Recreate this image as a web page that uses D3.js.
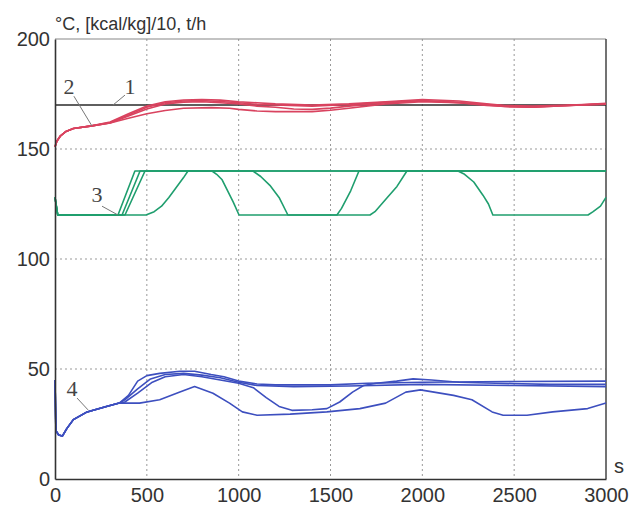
<!DOCTYPE html>
<html>
<head>
<meta charset="utf-8">
<script src="https://cdn.jsdelivr.net/npm/d3@7"></script>
<style>
  body { margin: 0; background: #fff; }
  svg { display: block; font-family: "Liberation Sans", Arial, sans-serif; }
</style>
</head>
<body>
<svg width="642" height="508"></svg>
<script>
// ticks
xTicks = [0, 500, 1000, 1500, 2000, 2500, 3000];
yTicks = [0, 50, 100, 150, 200];

// 1 - setpoint
setpoint = [[0, 170], [3000, 170]];

// 2 - temperature, four runs
red1 = [[0,151],[10,153.5],[30,156],[60,158],[100,159.3],[200,160.5],[300,162.3],[400,166],[500,169.5],[600,171.5],[700,172.3],[800,172.5],[900,172.2],[1000,171.5],[1100,171],[1200,170.5],[1400,170],[1600,170.5],[1800,171.5],[2000,172.5],[2200,171.8],[2350,170.5],[2450,169.8],[2600,169.5],[2800,170],[3000,170.6]];
red2 = [[0,151],[10,153.5],[30,156],[60,158],[100,159.3],[200,160.5],[300,162],[400,165.5],[500,169],[600,171],[700,171.8],[800,172],[900,171.6],[1000,171],[1100,170.3],[1200,170],[1400,169.5],[1600,170.2],[1800,171.2],[2000,172],[2200,171.2],[2350,170],[2450,169.3],[2600,169],[2800,169.8],[3000,170.8]];
red3 = [[0,151],[10,153.5],[30,156],[60,158],[100,159.3],[200,160.5],[300,161.8],[400,165],[500,168.2],[600,170.5],[700,171.3],[800,171.5],[900,171],[1000,170.5],[1100,169.5],[1200,169],[1300,168.2],[1400,168],[1500,168.6],[1600,169.5],[1800,171],[2000,171.8],[2200,171],[2350,170.2],[2450,169.6],[2600,169.2],[2800,169.8],[3000,170.4]];
red4 = [[0,151],[10,153.5],[30,156],[60,158],[100,159.3],[200,160.5],[300,161.8],[400,164],[500,166],[600,167.5],[700,168.5],[850,168.8],[950,168.5],[1000,168],[1100,167.3],[1200,167],[1400,167],[1500,167.6],[1600,168.5],[1800,170.5],[2000,171.5],[2200,171],[2350,169.8],[2450,169.3],[2600,169],[2800,169.8],[3000,170.5]];

// 3 - flow, four runs
green1 = [[0,128],[15,120],[343,120],[435,140],[3000,140]];
green2 = [[0,128],[15,120],[365,120],[463,140],[3000,140]];
green3 = [[0,128],[15,120],[381,120],[490,140],[1078,140],[1120,137.5],[1170,133.5],[1220,128],[1268,120],[1535,120],[1560,123],[1610,131],[1655,140],[3000,140]];
green4 = [[0,128],[15,120],[495,120],[540,121.5],[580,124],[620,128],[660,132.5],[700,137],[724,140],[855,140],[880,138.5],[910,136],[940,131],[970,126],[1002,120],[1715,120],[1742,121.5],[1807,127.7],[1862,133],[1916,140],[2194,140],[2230,138.5],[2280,135],[2330,129],[2360,125],[2384,120],[2902,120],[2930,121.5],[2970,124],[3000,128]];

// 4 - enthalpy/10, four runs
blue1 = [[0,45],[5,22],[20,20],[40,19.5],[65,23],[100,27],[175,30.5],[280,33],[350,34.5],[400,38],[450,44.5],[500,47],[570,48],[680,49],[760,49],[850,47.5],[920,46.5],[1000,44.5],[1100,43.2],[1200,42.8],[1500,42.8],[1700,43.5],[2000,44],[2500,44.3],[3000,44.5]];
blue2 = [[0,45],[5,22],[20,20],[40,19.5],[65,23],[100,27],[175,30.5],[280,33],[350,34.5],[380,36],[450,41],[520,45.5],[600,47.5],[700,48],[800,47.2],[900,46],[1000,44],[1100,42.5],[1300,42],[1600,42.3],[2000,43],[2500,42.5],[3000,42]];
blue3 = [[0,45],[5,22],[20,20],[40,19.5],[65,23],[100,27],[175,30.5],[280,33],[350,34.5],[380,35],[450,39],[530,44],[600,46.5],[700,47.5],[800,46.5],[900,45],[1000,43.5],[1080,41.5],[1150,37],[1220,33],[1290,31.2],[1400,31.5],[1480,32],[1550,35],[1620,39.5],[1680,42.5],[1750,43.5],[1860,44.5],[1950,45.5],[2050,45],[2200,44],[2400,43.5],[2700,43],[3000,43]];
blue4 = [[0,45],[5,22],[20,20],[40,19.5],[65,23],[100,27],[175,30.5],[280,33],[350,34.5],[460,34.5],[570,36],[680,39.5],[760,42],[860,39],[950,34.5],[1020,30.5],[1100,29],[1280,29.5],[1480,30.5],[1660,32],[1800,34.5],[1910,39.5],[1990,40.5],[2170,38],[2270,36],[2380,30.5],[2440,29],[2570,29],[2710,30.5],[2900,32],[3000,34.5]];

// curve labels: [text, label t, label v, leader from t,v, leader to t,v]
labels = [
  ["1", 408, 178.2, 381, 174.5, 316, 170],
  ["2", 76, 178.2, 103, 174, 201, 160.5],
  ["3", 229, 129.5, 256, 124, 343, 120],
  ["4", 93, 41, 120, 36.8, 180, 31.4]
];

svg = d3.select('svg');
margin = { top: 39, right: 36, bottom: 29, left: 55 };
width = +svg.attr('width') - margin.left - margin.right;
height = +svg.attr('height') - margin.top - margin.bottom;

g = svg.append('g')
  .attr('transform', `translate(${margin.left},${margin.top})`);

x = d3.scaleLinear().domain([0, 3000]).range([0, width]);
y = d3.scaleLinear().domain([0, 200]).range([height, 0]);

// grid
g.selectAll('.vgrid')
  .data(xTicks.slice(1, -1))
  .enter().append('line')
    .attr('x1', d => x(d)).attr('x2', d => x(d))
    .attr('y1', 0).attr('y2', height)
    .attr('stroke', '#999').attr('stroke-width', 1)
    .attr('stroke-dasharray', '2,3');

g.selectAll('.hgrid')
  .data(yTicks.slice(1, -1))
  .enter().append('line')
    .attr('x1', 0).attr('x2', width)
    .attr('y1', d => y(d)).attr('y2', d => y(d))
    .attr('stroke', '#999').attr('stroke-width', 1)
    .attr('stroke-dasharray', '2,3');

// frame
g.append('line').attr('x1', 0).attr('x2', width).attr('y1', 0).attr('y2', 0)
  .attr('stroke', '#888').attr('stroke-width', 1.2);
g.append('line').attr('x1', width).attr('x2', width).attr('y1', 0).attr('y2', height)
  .attr('stroke', '#444').attr('stroke-width', 1.5);

line = d3.line().x(d => x(d[0])).y(d => y(d[1]));

function drawSeries(list, color) {
  list.forEach(s => {
    g.append('path')
      .datum(s)
      .attr('d', line)
      .attr('fill', 'none')
      .attr('stroke', color)
      .attr('stroke-width', 1.6)
      .attr('stroke-linejoin', 'round');
  });
}

drawSeries([green1, green2, green3, green4], '#1f9e6e');
drawSeries([blue1, blue2, blue3, blue4], '#3d4fbf');
drawSeries([setpoint], '#2a2a2a');
drawSeries([red1, red2, red3, red4], '#d9435f');

// axes
xAxis = g.append('g')
  .attr('transform', `translate(0,${height})`)
  .call(d3.axisBottom(x).tickValues(xTicks).tickFormat(d3.format('d')).tickSize(0).tickPadding(9));
yAxis = g.append('g')
  .call(d3.axisLeft(y).tickValues(yTicks).tickFormat(d3.format('d')).tickSize(0).tickPadding(5));

[xAxis, yAxis].forEach(a => {
  a.select('.domain').attr('stroke', '#333').attr('stroke-width', 1.6);
  a.selectAll('text')
    .attr('font-family', '"Liberation Sans", Arial, sans-serif')
    .attr('font-size', 20)
    .attr('fill', '#333');
});

// axis titles
svg.append('text')
  .attr('x', margin.left)
  .attr('y', 30)
  .attr('font-size', 18)
  .attr('fill', '#333')
  .text('°C, [kcal/kg]/10, t/h');

svg.append('text')
  .attr('x', margin.left + width + 8)
  .attr('y', margin.top + height - 6)
  .attr('font-size', 20)
  .attr('fill', '#333')
  .text('s');

// curve numbers with leader lines
labels.forEach(l => {
  g.append('line')
    .attr('x1', x(l[3])).attr('y1', y(l[4]))
    .attr('x2', x(l[5])).attr('y2', y(l[6]))
    .attr('stroke', '#777').attr('stroke-width', 1);
  g.append('text')
    .attr('x', x(l[1])).attr('y', y(l[2]))
    .attr('text-anchor', 'middle')
    .attr('dominant-baseline', 'central')
    .attr('font-family', '"Liberation Serif", "Times New Roman", serif')
    .attr('font-size', 22)
    .attr('fill', '#444')
    .text(l[0]);
});
</script>
</body>
</html>
